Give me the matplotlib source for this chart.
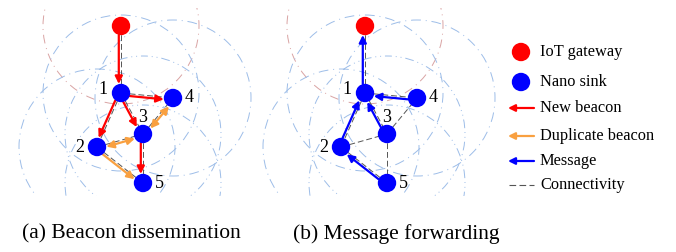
import matplotlib
matplotlib.use("Agg")
import matplotlib.pyplot as plt
from matplotlib.patches import Circle, FancyArrowPatch
import numpy as np

plt.rcParams['font.family'] = ['Liberation Serif', 'DejaVu Serif']

# node layout (pixel-like units, y down); index 0 is the IoT gateway
node_names = ['GW', '1', '2', '3', '4', '5']
node_x = [121, 121, 97, 143, 173, 143]
node_y = [26, 93, 147, 134, 98, 183]
label_dx = [0, -18, -17, 0, 16, 16]
label_dy = [0, -3, 0, -16, 0, 0]
comm_range = 78

# connectivity links
links = [(0, 1), (1, 4), (1, 2), (1, 3), (2, 3), (3, 4), (2, 5), (3, 5)]

# panel (a) beacon dissemination
new_beacon = [(0, 1), (1, 4), (1, 2), (1, 3), (3, 5)]
dup_beacon_two_way = [(2, 3), (3, 4)]
dup_beacon_one_way = [(2, 5)]

# panel (b) message forwarding
messages = [(1, 0), (4, 1), (3, 1), (2, 1), (5, 2)]

legend_labels = ['IoT gateway', 'Nano sink', 'New beacon', 'Duplicate beacon',
                 'Message', 'Connectivity']
captions = ['(a) Beacon dissemination', '(b) Message forwarding']

RED = '#ff0000'
BLUE = '#0000ff'
ORANGE = '#f9a040'
GRAY = '#555555'
RING_BLUE = '#9dbde8'
RING_PINK = '#d9a3a3'

fig = plt.figure(figsize=(6.76, 2.52), dpi=100)
W, H = 676, 252


def add_panel(px0, px1, xoff):
    # axes placed by figure pixels, data in the same pixel units
    top, bot = 8, 196
    ax = fig.add_axes([px0 / W, (H - bot) / H, (px1 - px0) / W, (bot - top) / H])
    ax.set_xlim(px0 - xoff, px1 - xoff)
    ax.set_ylim(bot, top)
    ax.axis('off')
    return ax


def draw_base(ax):
    styles = [(0, (9, 5, 1, 5)), (0, (10, 5, 1, 5)), (2, (10, 5, 1, 5)),
              (4, (9, 4, 1, 4, 1, 4)), (6, (10, 5, 1, 5)), (3, (9, 4, 1, 4, 1, 4))]
    for i in range(len(node_x)):
        col = RING_PINK if i == 0 else RING_BLUE
        ax.add_patch(Circle((node_x[i], node_y[i]), comm_range, fill=False,
                            ec=col, lw=0.7, ls=styles[i], zorder=1))
    for a, b in links:
        ax.plot([node_x[a], node_x[b]], [node_y[a], node_y[b]], color=GRAY,
                lw=0.7, ls=(0, (6, 3)), zorder=2)
    for i in range(len(node_x)):
        ax.add_patch(Circle((node_x[i], node_y[i]), 8.5,
                            color=RED if i == 0 else BLUE, zorder=5))
        if i > 0:
            ax.text(node_x[i] + label_dx[i], node_y[i] + label_dy[i], node_names[i],
                    fontsize=13, ha='center', va='center', zorder=6)


def arrow(ax, a, b, color, style='-|>', off=2.2):
    x0, y0, x1, y1 = node_x[a], node_y[a], node_x[b], node_y[b]
    d = np.hypot(x1 - x0, y1 - y0)
    nx_, ny_ = -(y1 - y0) / d * off, (x1 - x0) / d * off
    p = FancyArrowPatch((x0 + nx_, y0 + ny_), (x1 + nx_, y1 + ny_),
                        arrowstyle=style, mutation_scale=11, color=color,
                        lw=1.6, shrinkA=6.5, shrinkB=6.5, zorder=4)
    ax.add_patch(p)


ax_a = add_panel(0, 252, 0)
draw_base(ax_a)
for a, b in new_beacon:
    arrow(ax_a, a, b, RED)
for a, b in dup_beacon_two_way:
    arrow(ax_a, a, b, ORANGE, style='<|-|>')
for a, b in dup_beacon_one_way:
    arrow(ax_a, a, b, ORANGE)

ax_b = add_panel(252, 500, 244)
draw_base(ax_b)
for a, b in messages:
    arrow(ax_b, a, b, BLUE, off=-2.2)

# overlay axes for legend and captions
ov = fig.add_axes([0, 0, 1, 1])
ov.set_xlim(0, W)
ov.set_ylim(H, 0)
ov.axis('off')

leg_y = [52, 82, 108, 136, 161, 185]
ov.add_patch(Circle((521, leg_y[0]), 8.5, color=RED))
ov.add_patch(Circle((521, leg_y[1]), 8.5, color=BLUE))
for y, col in zip(leg_y[2:5], [RED, ORANGE, BLUE]):
    ov.add_patch(FancyArrowPatch((534, y), (508, y), arrowstyle='-|>',
                                 mutation_scale=10, color=col, lw=1.6,
                                 shrinkA=0, shrinkB=0))
ov.plot([509, 534], [leg_y[5], leg_y[5]], color=GRAY, lw=0.8, ls=(0, (6, 3)))
for y, lab in zip(leg_y, legend_labels):
    ov.text(540, y, lab, fontsize=11.8, ha='left', va='center')

ov.text(22, 234, captions[0], fontsize=15.5, ha='left', va='center')
ov.text(293, 234, captions[1], fontsize=15.5, ha='left', va='center')

fig.savefig('out.png', dpi=100)
